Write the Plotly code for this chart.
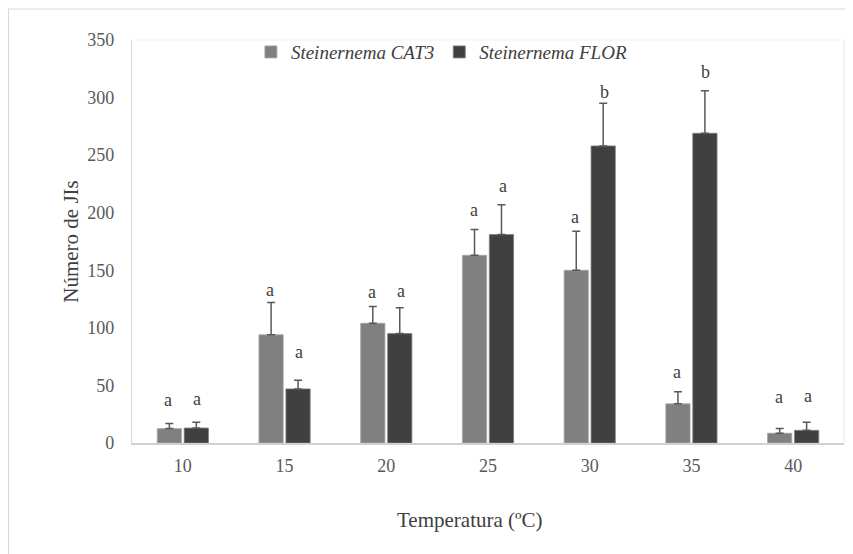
import plotly.graph_objects as go

categories = ["10", "15", "20", "25", "30", "35", "40"]
cat3_values = [12.5, 94, 104, 163, 150, 34, 8.5]
cat3_errors = [4.5, 28, 14.5, 22.5, 34, 10.5, 4]
flor_values = [13, 47, 95, 181, 258, 269, 11]
flor_errors = [5, 7.5, 22.5, 26, 37, 37, 7]
cat3_letters = ["a", "a", "a", "a", "a", "a", "a"]
flor_letters = ["a", "a", "a", "a", "b", "b", "a"]
cat3_letter_y = [37, 133, 131, 202, 196, 62, 40]
flor_letter_y = [38, 79, 132, 223, 305, 322, 41]
y_ticks = [0, 50, 100, 150, 200, 250, 300, 350]

FONT = "Liberation Serif, Times New Roman, serif"

fig = go.Figure()
fig.add_trace(go.Bar(
    x=categories, y=cat3_values, name="Steinernema CAT3",
    marker=dict(color="#808080", line=dict(color="#a6a6a6", width=0.8)),
    error_y=dict(type="data", array=cat3_errors, symmetric=False, arrayminus=[0]*7,
                 color="#595959", thickness=1.5, width=4),
))
fig.add_trace(go.Bar(
    x=categories, y=flor_values, name="Steinernema FLOR",
    marker=dict(color="#404040", line=dict(color="#7f7f7f", width=0.8)),
    error_y=dict(type="data", array=flor_errors, symmetric=False, arrayminus=[0]*7,
                 color="#595959", thickness=1.5, width=4),
))

# letters: x given as category index (numeric-looking category strings would be read as indices)
for i in range(len(categories)):
    fig.add_annotation(x=i, y=cat3_letter_y[i], text=cat3_letters[i], showarrow=False,
                       xshift=-14.5, font=dict(family=FONT, size=18, color="#404040"))
    fig.add_annotation(x=i, y=flor_letter_y[i], text=flor_letters[i], showarrow=False,
                       xshift=14.5, font=dict(family=FONT, size=18, color="#404040"))

fig.add_annotation(xref="paper", yref="paper", x=0.4747, y=-0.191, yanchor="middle",
                   text="Temperatura (ºC)", showarrow=False,
                   font=dict(family=FONT, size=21, color="#404040"))

# outer chart border
fig.add_shape(type="rect", xref="paper", yref="paper", x0=-0.1735, y0=-0.5, x1=1.2, y1=1.0769,
              line=dict(color="#d9d9d9", width=1.2), layer="below")

fig.update_layout(
    width=845, height=546,
    margin=dict(l=124, r=9, t=32, b=111),
    paper_bgcolor="white", plot_bgcolor="white",
    barmode="group", bargap=0.47, bargroupgap=0.1,
    font=dict(family=FONT, size=18, color="#595959"),
    showlegend=True,
    legend=dict(orientation="h", x=0.167, xanchor="left", y=0.970, yanchor="middle",
                font=dict(family=FONT, size=19, color="#404040", style="italic"),
                bgcolor="rgba(0,0,0,0)", traceorder="normal"),
    xaxis=dict(type="category", showline=True, linecolor="#d0d0d0", linewidth=1.5, ticks="",
               showgrid=False, ticklabelstandoff=6, range=[-0.5, 6.5],
               tickfont=dict(family=FONT, size=18, color="#595959")),
    yaxis=dict(range=[0, 350], tickvals=y_ticks, showline=True, linecolor="#d9d9d9", linewidth=1.2,
               showgrid=False, ticks="", zeroline=False, ticklabelstandoff=13,
               tickfont=dict(family=FONT, size=18, color="#595959"),
               title=dict(text="Número de JIs", font=dict(family=FONT, size=21, color="#404040"),
                          standoff=2)),
)
fig.add_shape(type="line", xref="paper", yref="paper", x0=0, x1=1, y0=1, y1=1,
              line=dict(color="#eef2f8", width=1))
fig.add_shape(type="line", xref="paper", yref="paper", x0=1, x1=1, y0=0, y1=1,
              line=dict(color="#dbe6f4", width=1))

fig.write_html("out.html")
